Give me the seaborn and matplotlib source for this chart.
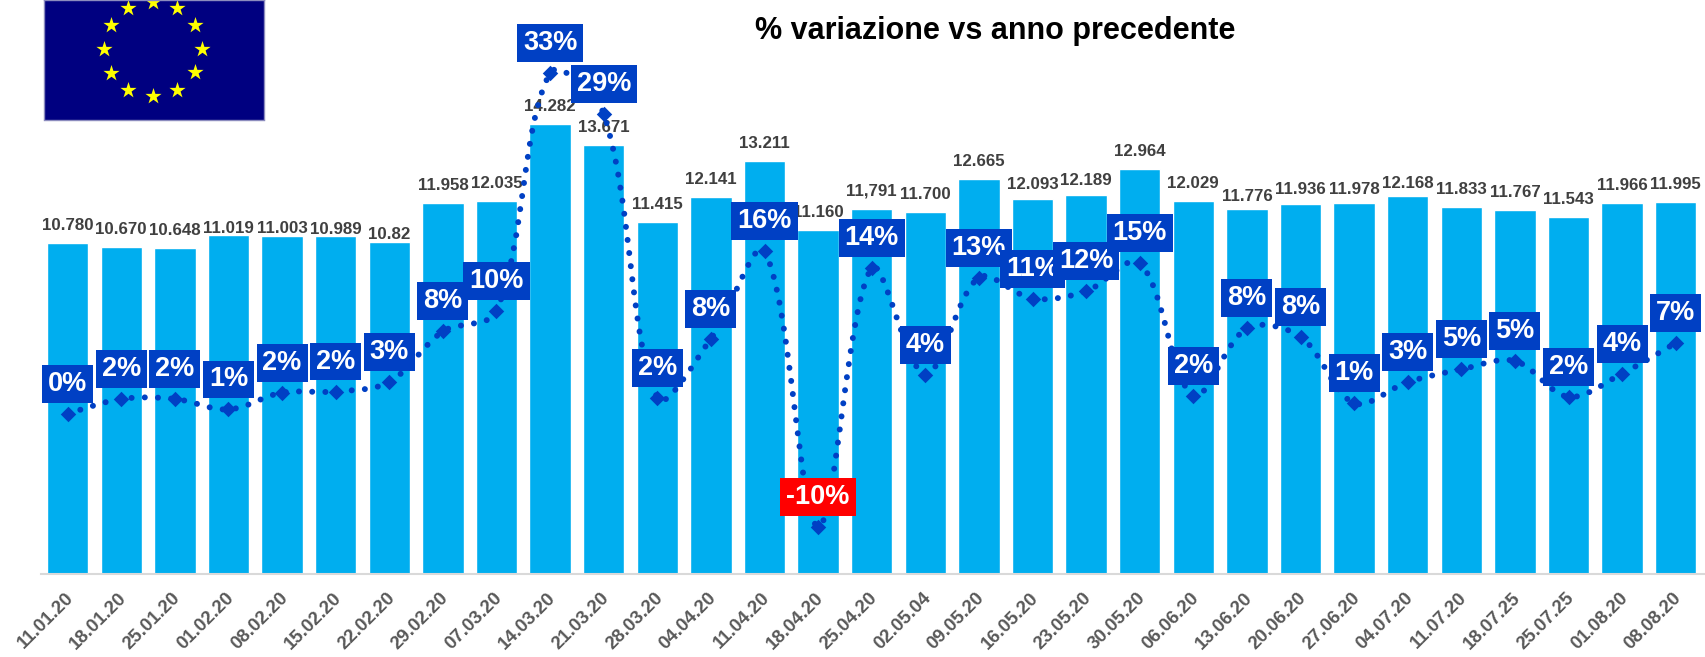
import numpy as np
import pandas as pd
import seaborn as sns
import matplotlib
matplotlib.use("Agg")
import matplotlib.pyplot as plt
from matplotlib.path import Path
from matplotlib.patches import PathPatch
from matplotlib.transforms import ScaledTranslation

dates = ["11.01.20","18.01.20","25.01.20","01.02.20","08.02.20","15.02.20","22.02.20","29.02.20",
         "07.03.20","14.03.20","21.03.20","28.03.20","04.04.20","11.04.20","18.04.20","25.04.20",
         "02.05.04","09.05.20","16.05.20","23.05.20","30.05.20","06.06.20","13.06.20","20.06.20",
         "27.06.20","04.07.20","11.07.20","18.07.25","25.07.25","01.08.20","08.08.20"]
volumes = [10780,10670,10648,11019,11003,10989,10820,11958,12035,14282,13671,11415,12141,13211,11160,
           11791,11700,12665,12093,12189,12964,12029,11776,11936,11978,12168,11833,11767,11543,11966,11995]
volume_labels = ["10.780","10.670","10.648","11.019","11.003","10.989","10.82","11.958","12.035","14.282",
                 "13.671","11.415","12.141","13.211","11.160","11,791","11.700","12.665","12.093","12.189",
                 "12.964","12.029","11.776","11.936","11.978","12.168","11.833","11.767","11.543","11.966","11.995"]
change = [0.7,2.1,2.1,1.1,2.7,2.8,3.7,8.5,10.4,33.0,29.1,2.2,7.8,16.1,-10.0,14.5,4.4,13.6,11.6,12.3,15.0,
          2.4,8.8,8.0,1.7,3.7,4.9,5.7,2.3,4.5,7.4]
change_labels = ["0%","2%","2%","1%","2%","2%","3%","8%","10%","33%","29%","2%","8%","16%","-10%","14%","4%",
                 "13%","11%","12%","15%","2%","8%","8%","1%","3%","5%","5%","2%","4%","7%"]

W, H = 1706, 657
BASE = 574
X_UNIT, Y_UNIT = 53.6, 10.55
FONT = "Liberation Sans"
sns.set_theme(style="white")
plt.rcParams["font.family"] = [FONT, "DejaVu Sans"]

fig = plt.figure(figsize=(W/100, H/100), dpi=100, facecolor="white")
ax = fig.add_axes([41/W, 1-BASE/H, (W-41)/W, BASE/H])
df = pd.DataFrame({"date": dates, "volume": volumes, "change": change})
sns.barplot(data=df, x="date", y="volume", color="#00AEEF", saturation=1, width=0.774, ax=ax, zorder=2)
ax.set_xlim(-0.498, 30.565)
ax.set_ylim(1036, 17943)
ax.set_xlabel(""); ax.set_ylabel("")
ax.set_yticks([])
for s in ["top", "left", "right"]:
    ax.spines[s].set_visible(False)
ax.spines["bottom"].set_color("#D9D9D9")
ax.spines["bottom"].set_linewidth(1.5)
ax.tick_params(axis="x", length=0, pad=11)
ax.set_xticks(range(len(dates)))
ax.set_xticklabels(dates, rotation=45, ha="right", va="top", rotation_mode="anchor",
                   fontsize=13.4, fontweight="bold", color="#595959")
shift = ScaledTranslation(-3/100, 0, fig.dpi_scale_trans)
for lab in ax.get_xticklabels():
    lab.set_transform(lab.get_transform() + shift)

# the value labels in the reference were nudged by hand, some closer to their bars
lift = {3: 7, 4: 7, 5: 7, 6: 7, 18: 14, 19: 15, 22: 12.5, 23: 14, 24: 13, 25: 12.7}
for i, (v, t) in enumerate(zip(volumes, volume_labels)):
    ax.annotate(t, (i, v), xytext=(0, lift.get(i, 17.5)*0.72), textcoords="offset points",
                ha="center", va="center", fontsize=12.2, fontweight="bold", color="#404040", zorder=1)

ax2 = ax.twinx()
ax2.set_ylim(-14.49, 39.9)
ax2.set_yticks([])
ax2.grid(False)
for s in ax2.spines.values():
    s.set_visible(False)
ax2.patch.set_visible(False)

# smoothed line: chord-length weighted tangents, measured on screen proportions
x = np.arange(len(change), dtype=float)
y = np.array(change, dtype=float)
chord = np.hypot(np.diff(x)*X_UNIT, np.diff(y)*Y_UNIT)
verts = [(x[0], y[0])]
codes = [Path.MOVETO]
for i in range(len(x)-1):
    a = max(i-1, 0)
    b = min(i+2, len(x)-1)
    w0 = chord[i]/(chord[a] + chord[i]) if i > 0 else 0.5
    w1 = chord[i]/(chord[i] + chord[b-1]) if i+2 < len(x) else 0.5
    c1 = (x[i]+(x[i+1]-x[a])*w0/3, y[i]+(y[i+1]-y[a])*w0/3)
    c2 = (x[i+1]-(x[b]-x[i])*w1/3, y[i+1]-(y[b]-y[i])*w1/3)
    verts += [c1, c2, (x[i+1], y[i+1])]
    codes += [Path.CURVE4]*3
BLUE = "#0040C4"
ax2.add_patch(PathPatch(Path(verts, codes), fill=False, edgecolor=BLUE, linewidth=4.3,
                        linestyle=(0, (0.01, 2.2)), capstyle="round", zorder=3, clip_on=False))
sns.scatterplot(data=df.reset_index(), x="index", y="change", marker="D", s=62, color=BLUE,
                linewidth=0, ax=ax2, zorder=4, legend=False, clip_on=False)
ax2.set_xlabel(""); ax2.set_ylabel("")

for i, (c, t) in enumerate(zip(change, change_labels)):
    ax2.annotate(t, (i, c), xytext=(0, 30*0.72), textcoords="offset points", ha="center", va="center",
                 fontsize=19.5, fontweight="bold", color="white", zorder=5,
                 bbox=dict(boxstyle="square,pad=0.22", fc="#FF0000" if c < 0 else BLUE, ec="none"))

fig.text(995/W, 1-30.5/H, "% variazione vs anno precedente", ha="center", va="center",
         fontsize=22, fontweight="bold", color="black")

# EU flag
flag = fig.add_axes([44/W, 1-119.5/H, 220/W, 119.5/H])
flag.set_xlim(44, 264); flag.set_ylim(119.5, 0)
flag.set_facecolor("#000080")
flag.set_xticks([]); flag.set_yticks([])
for s in flag.spines.values():
    s.set_color("#8C8CBE"); s.set_linewidth(1)
ang = np.deg2rad(np.arange(12)*30)
flag.scatter(153+49*np.sin(ang), 49-47*np.cos(ang), marker="*", s=150, color="#FFFF00", linewidth=0, clip_on=True)

fig.savefig("out.png", dpi=100)
